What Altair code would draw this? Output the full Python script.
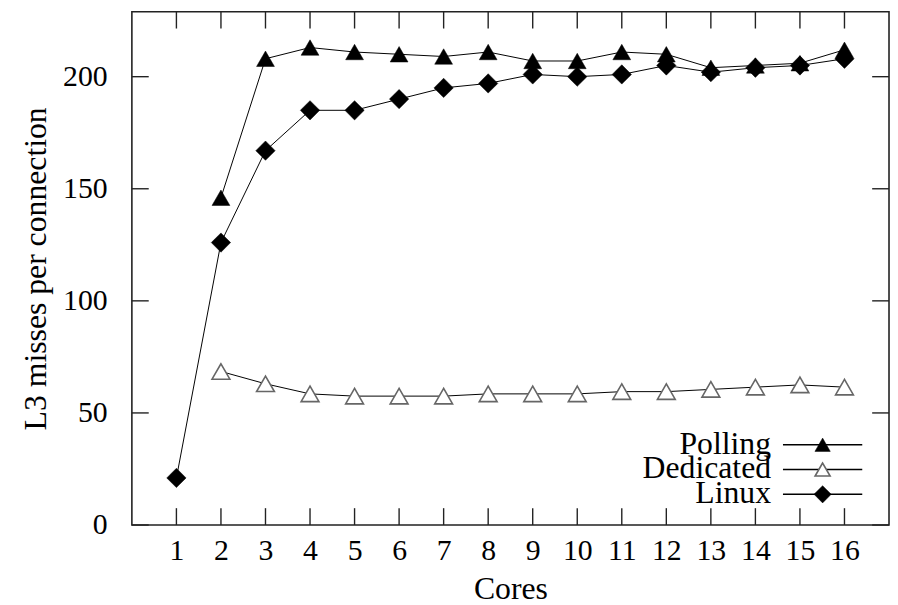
import altair as alt
import pandas as pd

cores = list(range(1, 17))
polling = [None, 146, 208, 213, 211, 210, 209, 211, 207, 207, 211, 210, 204, 205, 206, 212]
dedicated = [None, 68.5, 63, 58.5, 57.5, 57.5, 57.5, 58.5, 58.5, 58.5, 59.5, 59.5, 60.5, 61.5, 62.5, 61.5]
linux = [21, 126, 167, 185, 185, 190, 195, 197, 201, 200, 201, 205, 202, 204, 205, 208]
series = ["Polling", "Dedicated", "Linux"]
x_ticks = cores
y_ticks = [0, 50, 100, 150, 200]

W, H = 764, 518
FONT = "Liberation Serif"
FS = 30
TFS = 32
TICK = 17

rows = []
for name, vals in zip(series, [polling, dedicated, linux]):
    for c, v in zip(cores, vals):
        if v is not None:
            rows.append({"cores": c, "value": v, "series": name})
df = pd.DataFrame(rows)

xscale = alt.Scale(domain=[0, 17], nice=False, zero=False)
yscale = alt.Scale(domain=[0, 229], nice=False)
xaxis = alt.Axis(values=x_ticks, title="Cores", ticks=False, tickSize=0, domain=False, grid=False,
                 labelPadding=11, titlePadding=8, labelFlush=False)
yaxis = alt.Axis(values=y_ticks, title="L3 misses per connection", ticks=False, tickSize=0,
                 domain=False, grid=False, labelPadding=25, titlePadding=10)
X = alt.X("cores:Q", scale=xscale, axis=xaxis)
Y = alt.Y("value:Q", scale=yscale, axis=yaxis)

styles = {
    "Polling": dict(shape="triangle-up", filled=True, fill="black", stroke="black", strokeWidth=0.5, size=324, opacity=1),
    "Dedicated": dict(shape="triangle-up", filled=False, fill="white", stroke="#666666", strokeWidth=1.6, size=324, opacity=1),
    "Linux": dict(shape="diamond", filled=True, fill="black", stroke="black", strokeWidth=0.5, size=380, opacity=1),
}
leg_sizes = {"Polling": 240, "Dedicated": 230, "Linux": 300}

data_layers = []
for name in series:
    base = alt.Chart(df).transform_filter(alt.datum.series == name)
    data_layers.append(base.mark_line(color="black", strokeWidth=1).encode(x=X, y=Y))
for name in series:
    base = alt.Chart(df).transform_filter(alt.datum.series == name)
    data_layers.append(base.mark_point(**styles[name]).encode(x=X, y=Y))

xt = pd.DataFrame({"cores": x_ticks})
yt = pd.DataFrame({"value": y_ticks})
tick_style = dict(color="#222222", strokeWidth=1.4)
data_layers += [
    alt.Chart(xt).mark_rule(**tick_style).encode(x=X, y=alt.value(H), y2=alt.value(H - TICK)),
    alt.Chart(xt).mark_rule(**tick_style).encode(x=X, y=alt.value(0), y2=alt.value(TICK)),
    alt.Chart(yt).mark_rule(**tick_style).encode(y=Y, x=alt.value(0), x2=alt.value(TICK)),
    alt.Chart(yt).mark_rule(**tick_style).encode(y=Y, x=alt.value(W - TICK), x2=alt.value(W)),
]
data_group = alt.layer(*data_layers)

leg = pd.DataFrame({"series": series})
# point scale with default padding 0.5: step = (end - start) / 3 -> 25px rows at 437, 462, 487
LY = alt.Y("series:N", scale=alt.Scale(domain=series, range=[424.5, 499.5]), axis=None)
leg_layers = [
    alt.Chart(leg).mark_text(align="right", baseline="middle", font=FONT, fontSize=TFS, color="black", dy=-1)
    .encode(x=alt.value(645), y=LY, text="series:N"),
    alt.Chart(leg).mark_rule(color="black", strokeWidth=1.4).encode(x=alt.value(657), x2=alt.value(737), y=LY),
]
for name in series:
    st = dict(styles[name])
    st["size"] = leg_sizes[name]
    leg_layers.append(
        alt.Chart(leg).transform_filter(alt.datum.series == name).mark_point(**st)
        .encode(x=alt.value(697), y=LY)
    )
leg_group = alt.layer(*leg_layers)

chart = (
    alt.layer(data_group, leg_group)
    .resolve_scale(y="independent")
    .properties(
        width=W, height=H,
        padding={"left": 125, "top": 1, "right": 1, "bottom": 78},
        autosize=alt.AutoSizeParams(type="none"),
    )
    .configure_view(stroke="#222222", strokeWidth=1.6)
    .configure_axis(labelFont=FONT, labelFontSize=FS, labelColor="black",
                    titleFont=FONT, titleFontSize=TFS, titleColor="black", titleFontWeight="normal")
)

chart.save("out.html", embed_options={"renderer": "svg", "actions": False})
